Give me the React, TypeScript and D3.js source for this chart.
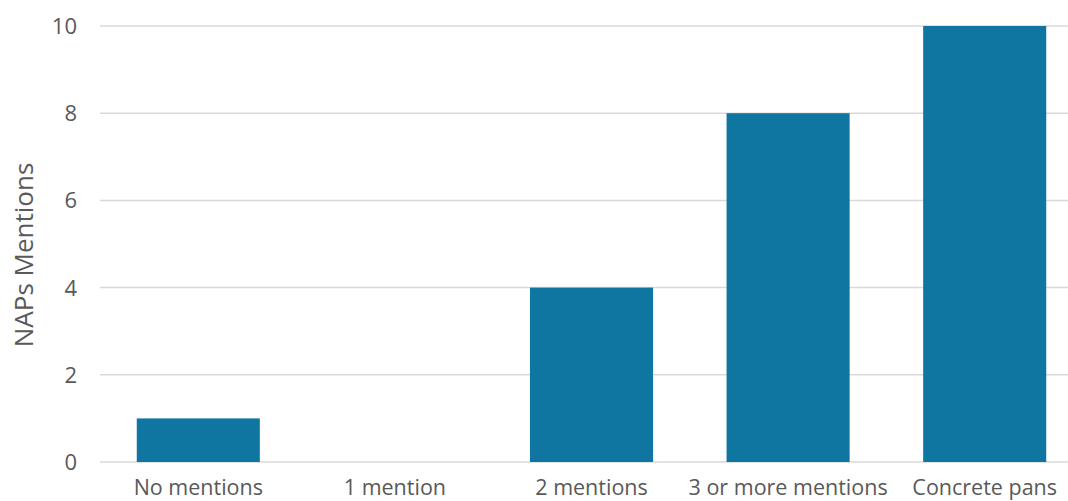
import React from "react";
import * as d3 from "d3";

const categories = ["No mentions", "1 mention", "2 mentions", "3 or more mentions", "Concrete pans"];
const values = [1, 0, 4, 8, 10];
const yTicks = [0, 2, 4, 6, 8, 10];
const yLabel = "NAPs Mentions";

const W = 1068;
const H = 501;
const left = 100;
const right = 1083;
const top = 26;
const bottom = 462;
const font = "'Open Sans', sans-serif";

export default function App() {
  const x = d3.scaleBand<string>().domain(categories).range([left, right]).paddingInner(0.374).paddingOuter(0.187);
  const y = d3.scaleLinear().domain([0, 10]).range([bottom, top]);
  return (
    <svg width={W} height={H} style={{ position: "absolute", left: 0, top: 0, background: "#fff" }}>
      {yTicks.map((t) => (
        <g key={t}>
          <line x1={left} x2={right} y1={y(t)} y2={y(t)} stroke="#d9d9d9" strokeWidth={1.5} />
          <text x={77} y={y(t)} dy="0.36em" textAnchor="end" fontFamily={font} fontSize={22} fill="#595959">
            {t}
          </text>
        </g>
      ))}
      {categories.map((c, i) => (
        <g key={c}>
          {values[i] > 0 && (
            <rect x={x(c)} y={y(values[i])} width={x.bandwidth()} height={y(0) - y(values[i])} fill="#0e76a0" />
          )}
          <text x={(x(c) as number) + x.bandwidth() / 2} y={495} textAnchor="middle" fontFamily={font} fontSize={21.5} fill="#595959">
            {c}
          </text>
        </g>
      ))}
      <text transform={`translate(33,255) rotate(-90)`} textAnchor="middle" fontFamily={font} fontSize={26} fill="#595959">
        {yLabel}
      </text>
    </svg>
  );
}
